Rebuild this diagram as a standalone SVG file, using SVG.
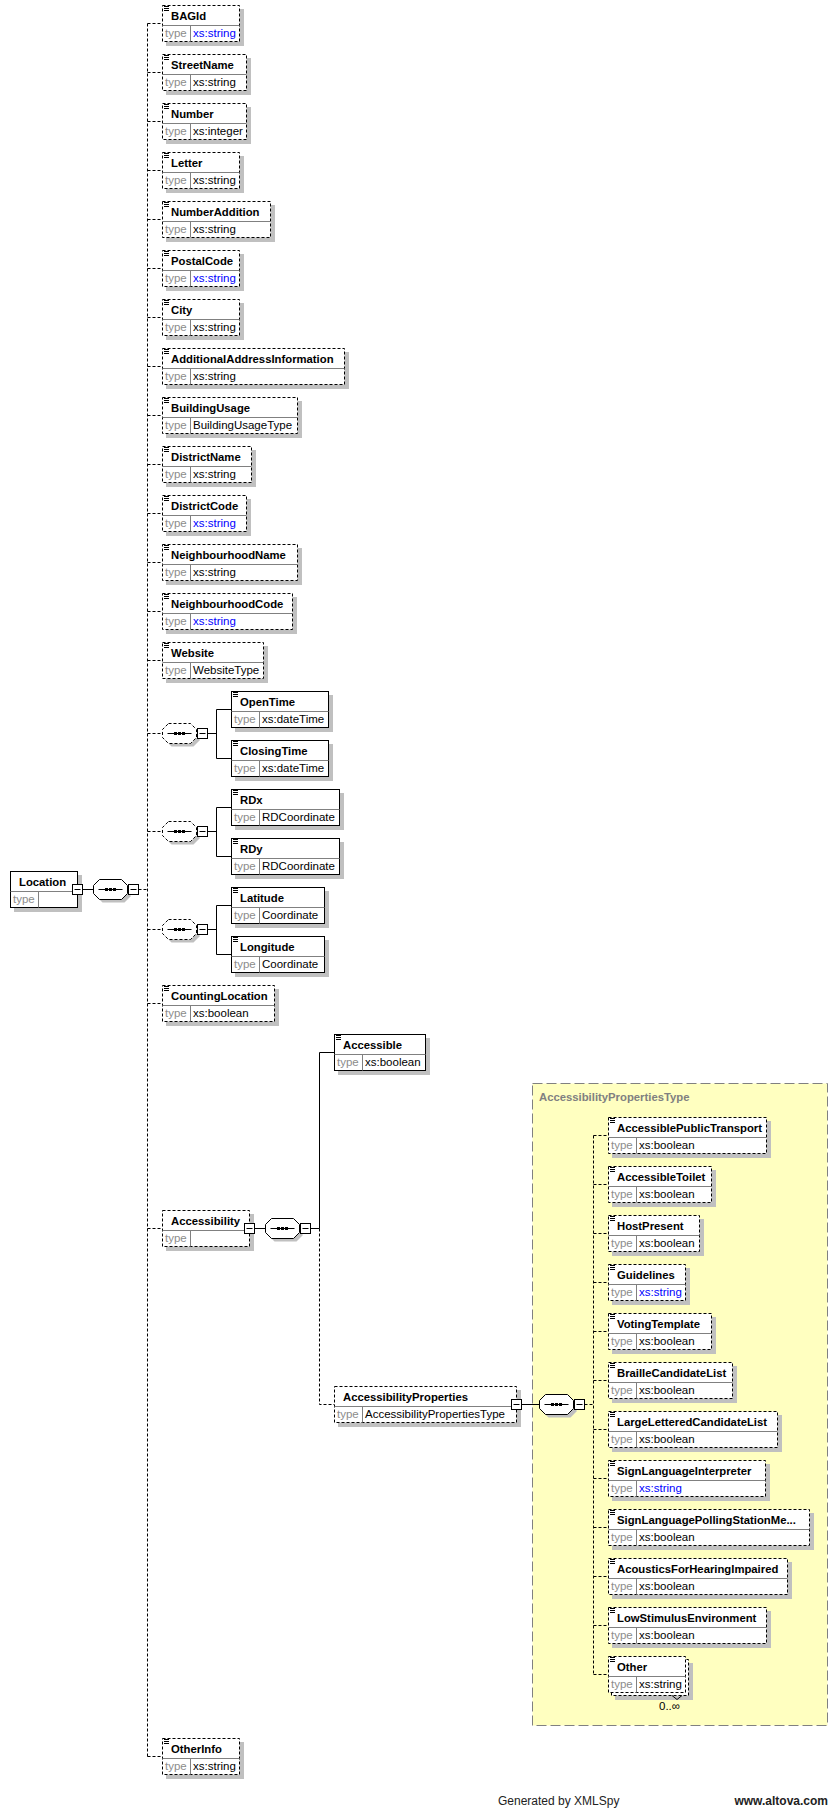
<svg xmlns="http://www.w3.org/2000/svg" xmlns:xlink="http://www.w3.org/1999/xlink" width="838" height="1809" viewBox="0 0 838 1809">
<style>
.sh{fill:#c0c0c0;stroke:none}
.bx{fill:#fff;stroke:#000;stroke-width:1}
.op{stroke-dasharray:3 2}
.dv{stroke:#808080;stroke-width:1;fill:none}
.ic{stroke:#000;stroke-width:1;fill:none}
.nm{font-family:'Liberation Sans',Arial,sans-serif;font-weight:bold;font-size:11.3px;fill:#000}
.ty{font-family:'Liberation Sans',Arial,sans-serif;font-size:11.5px;fill:#8c8c8c}
.vl{font-family:'Liberation Sans',Arial,sans-serif;font-size:11.5px;fill:#000}
.bl{fill:#0000ff}
.ln{stroke:#000;stroke-width:1;fill:none}
.dl{stroke-dasharray:3 2}
.ft{font-family:'Liberation Sans',Arial,sans-serif;font-size:12px;fill:#222}
</style>
<defs>
<polygon id="oct" points="6,0 28,0 34,6 34,14 28,20 6,20 0,14 0,6"/>
<g id="seq"><path d="M5 10H29" stroke="#000" stroke-width="1"/><rect x="11.5" y="8.5" width="3" height="3"/><rect x="15.5" y="8.5" width="3" height="3"/><rect x="19.5" y="8.5" width="3" height="3"/></g>
<g id="minus"><rect width="10" height="10" fill="#fff" stroke="#000" stroke-width="1"/><path d="M2 5H8" stroke="#000" stroke-width="1"/></g>
</defs>
<rect width="838" height="1809" fill="#fff"/>

<g id="AccessibilityPropertiesType">
<rect x="532.5" y="1083.5" width="295" height="642" fill="#ffffc0" stroke="#808080" stroke-width="1" stroke-dasharray="10 4"/>
<text class="nm" x="539" y="1101" style="fill:#808080">AccessibilityPropertiesType</text>
</g>

<g id="connectors" class="ln">
<path class="dl" d="M147.5 23.5V1756.5"/>
<path class="dl" d="M147.5 23.5H162.5M147.5 72.5H162.5M147.5 121.5H162.5M147.5 170.5H162.5M147.5 219.5H162.5M147.5 268.5H162.5M147.5 317.5H162.5M147.5 366.5H162.5M147.5 415.5H162.5M147.5 464.5H162.5M147.5 513.5H162.5M147.5 562.5H162.5M147.5 611.5H162.5M147.5 660.5H162.5M147.5 733.5H162.5M147.5 831.5H162.5M147.5 929.5H162.5M147.5 1003.5H162.5M147.5 1228.5H162.5M147.5 1756.5H162.5"/>
<path d="M82.5 889.5H93.5"/>
<path class="dl" d="M138.5 889.5H147.5"/>
<path d="M207.5 733.5H216.5M216.5 709.5V758.5M216.5 709.5H231.5M216.5 758.5H231.5"/>
<path d="M207.5 831.5H216.5M216.5 807.5V856.5M216.5 807.5H231.5M216.5 856.5H231.5"/>
<path d="M207.5 929.5H216.5M216.5 905.5V954.5M216.5 905.5H231.5M216.5 954.5H231.5"/>
<path d="M254.5 1228.5H265.5M310.5 1228.5H319.5M319.5 1052.5V1228.5M319.5 1052.5H334.5"/>
<path class="dl" d="M319.5 1228.5V1404.5H334.5"/>
<path d="M521.5 1404.5H539.5"/>
<path class="dl" d="M584.5 1404.5H593.5M593.5 1135.5V1674.5"/>
<path class="dl" d="M593.5 1135.5H608.5M593.5 1184.5H608.5M593.5 1233.5H608.5M593.5 1282.5H608.5M593.5 1331.5H608.5M593.5 1380.5H608.5M593.5 1429.5H608.5M593.5 1478.5H608.5M593.5 1527.5H608.5M593.5 1576.5H608.5M593.5 1625.5H608.5M593.5 1674.5H608.5"/>
</g>

<g id="Location">
<rect class="sh" x="14" y="875" width="68" height="37"/>
<rect class="bx" x="10.5" y="871.5" width="67" height="36"/>
<path class="dv" d="M10.5 891.5H77.5M38.5 891.5V907.5"/>
<text class="nm" x="19" y="886">Location</text>
<text class="ty" x="13" y="903">type</text>
<use xlink:href="#minus" x="72.5" y="884.5"/>
</g>
<g id="seq-Location">
<use xlink:href="#oct" x="96.5" y="882.5" class="sh"/>
<use xlink:href="#oct" x="93.5" y="879.5" class="bx"/>
<use xlink:href="#seq" x="93.5" y="879.5"/>
<use xlink:href="#minus" x="128.5" y="884.5"/>
</g>

<g id="BAGId">
<rect class="sh" x="166" y="9" width="78" height="37"/>
<rect class="bx op" x="162.5" y="5.5" width="77" height="36"/>
<path class="dv" d="M162.5 25.5H239.5M190.5 25.5V41.5"/>
<path class="ic" d="M164 6.5h5M164 8.5h5M164 10.5h5"/>
<text class="nm" x="171" y="20">BAGId</text>
<text class="ty" x="165" y="37">type</text>
<text class="vl bl" x="193" y="37">xs:string</text>
</g>
<g id="StreetName">
<rect class="sh" x="166" y="58" width="85" height="37"/>
<rect class="bx op" x="162.5" y="54.5" width="84" height="36"/>
<path class="dv" d="M162.5 74.5H246.5M190.5 74.5V90.5"/>
<path class="ic" d="M164 55.5h5M164 57.5h5M164 59.5h5"/>
<text class="nm" x="171" y="69">StreetName</text>
<text class="ty" x="165" y="86">type</text>
<text class="vl" x="193" y="86">xs:string</text>
</g>
<g id="Number">
<rect class="sh" x="166" y="107" width="85" height="37"/>
<rect class="bx op" x="162.5" y="103.5" width="84" height="36"/>
<path class="dv" d="M162.5 123.5H246.5M190.5 123.5V139.5"/>
<path class="ic" d="M164 104.5h5M164 106.5h5M164 108.5h5"/>
<text class="nm" x="171" y="118">Number</text>
<text class="ty" x="165" y="135">type</text>
<text class="vl" x="193" y="135">xs:integer</text>
</g>
<g id="Letter">
<rect class="sh" x="166" y="156" width="78" height="37"/>
<rect class="bx op" x="162.5" y="152.5" width="77" height="36"/>
<path class="dv" d="M162.5 172.5H239.5M190.5 172.5V188.5"/>
<path class="ic" d="M164 153.5h5M164 155.5h5M164 157.5h5"/>
<text class="nm" x="171" y="167">Letter</text>
<text class="ty" x="165" y="184">type</text>
<text class="vl" x="193" y="184">xs:string</text>
</g>
<g id="NumberAddition">
<rect class="sh" x="166" y="205" width="109" height="37"/>
<rect class="bx op" x="162.5" y="201.5" width="108" height="36"/>
<path class="dv" d="M162.5 221.5H270.5M190.5 221.5V237.5"/>
<path class="ic" d="M164 202.5h5M164 204.5h5M164 206.5h5"/>
<text class="nm" x="171" y="216">NumberAddition</text>
<text class="ty" x="165" y="233">type</text>
<text class="vl" x="193" y="233">xs:string</text>
</g>
<g id="PostalCode">
<rect class="sh" x="166" y="254" width="78" height="37"/>
<rect class="bx op" x="162.5" y="250.5" width="77" height="36"/>
<path class="dv" d="M162.5 270.5H239.5M190.5 270.5V286.5"/>
<path class="ic" d="M164 251.5h5M164 253.5h5M164 255.5h5"/>
<text class="nm" x="171" y="265">PostalCode</text>
<text class="ty" x="165" y="282">type</text>
<text class="vl bl" x="193" y="282">xs:string</text>
</g>
<g id="City">
<rect class="sh" x="166" y="303" width="78" height="37"/>
<rect class="bx op" x="162.5" y="299.5" width="77" height="36"/>
<path class="dv" d="M162.5 319.5H239.5M190.5 319.5V335.5"/>
<path class="ic" d="M164 300.5h5M164 302.5h5M164 304.5h5"/>
<text class="nm" x="171" y="314">City</text>
<text class="ty" x="165" y="331">type</text>
<text class="vl" x="193" y="331">xs:string</text>
</g>
<g id="AdditionalAddressInformation">
<rect class="sh" x="166" y="352" width="183" height="37"/>
<rect class="bx op" x="162.5" y="348.5" width="182" height="36"/>
<path class="dv" d="M162.5 368.5H344.5M190.5 368.5V384.5"/>
<path class="ic" d="M164 349.5h5M164 351.5h5M164 353.5h5"/>
<text class="nm" x="171" y="363">AdditionalAddressInformation</text>
<text class="ty" x="165" y="380">type</text>
<text class="vl" x="193" y="380">xs:string</text>
</g>
<g id="BuildingUsage">
<rect class="sh" x="166" y="401" width="136" height="37"/>
<rect class="bx op" x="162.5" y="397.5" width="135" height="36"/>
<path class="dv" d="M162.5 417.5H297.5M190.5 417.5V433.5"/>
<path class="ic" d="M164 398.5h5M164 400.5h5M164 402.5h5"/>
<text class="nm" x="171" y="412">BuildingUsage</text>
<text class="ty" x="165" y="429">type</text>
<text class="vl" x="193" y="429">BuildingUsageType</text>
</g>
<g id="DistrictName">
<rect class="sh" x="166" y="450" width="90" height="37"/>
<rect class="bx op" x="162.5" y="446.5" width="89" height="36"/>
<path class="dv" d="M162.5 466.5H251.5M190.5 466.5V482.5"/>
<path class="ic" d="M164 447.5h5M164 449.5h5M164 451.5h5"/>
<text class="nm" x="171" y="461">DistrictName</text>
<text class="ty" x="165" y="478">type</text>
<text class="vl" x="193" y="478">xs:string</text>
</g>
<g id="DistrictCode">
<rect class="sh" x="166" y="499" width="85" height="37"/>
<rect class="bx op" x="162.5" y="495.5" width="84" height="36"/>
<path class="dv" d="M162.5 515.5H246.5M190.5 515.5V531.5"/>
<path class="ic" d="M164 496.5h5M164 498.5h5M164 500.5h5"/>
<text class="nm" x="171" y="510">DistrictCode</text>
<text class="ty" x="165" y="527">type</text>
<text class="vl bl" x="193" y="527">xs:string</text>
</g>
<g id="NeighbourhoodName">
<rect class="sh" x="166" y="548" width="136" height="37"/>
<rect class="bx op" x="162.5" y="544.5" width="135" height="36"/>
<path class="dv" d="M162.5 564.5H297.5M190.5 564.5V580.5"/>
<path class="ic" d="M164 545.5h5M164 547.5h5M164 549.5h5"/>
<text class="nm" x="171" y="559">NeighbourhoodName</text>
<text class="ty" x="165" y="576">type</text>
<text class="vl" x="193" y="576">xs:string</text>
</g>
<g id="NeighbourhoodCode">
<rect class="sh" x="166" y="597" width="131" height="37"/>
<rect class="bx op" x="162.5" y="593.5" width="130" height="36"/>
<path class="dv" d="M162.5 613.5H292.5M190.5 613.5V629.5"/>
<path class="ic" d="M164 594.5h5M164 596.5h5M164 598.5h5"/>
<text class="nm" x="171" y="608">NeighbourhoodCode</text>
<text class="ty" x="165" y="625">type</text>
<text class="vl bl" x="193" y="625">xs:string</text>
</g>
<g id="Website">
<rect class="sh" x="166" y="646" width="102" height="37"/>
<rect class="bx op" x="162.5" y="642.5" width="101" height="36"/>
<path class="dv" d="M162.5 662.5H263.5M190.5 662.5V678.5"/>
<path class="ic" d="M164 643.5h5M164 645.5h5M164 647.5h5"/>
<text class="nm" x="171" y="657">Website</text>
<text class="ty" x="165" y="674">type</text>
<text class="vl" x="193" y="674">WebsiteType</text>
</g>

<g id="seq-Time">
<use xlink:href="#oct" x="165.5" y="726.5" class="sh"/>
<use xlink:href="#oct" x="162.5" y="723.5" class="bx op"/>
<use xlink:href="#seq" x="162.5" y="723.5"/>
<use xlink:href="#minus" x="197.5" y="728.5"/>
</g>
<g id="OpenTime">
<rect class="sh" x="235" y="695" width="98" height="37"/>
<rect class="bx" x="231.5" y="691.5" width="97" height="36"/>
<path class="dv" d="M231.5 711.5H328.5M259.5 711.5V727.5"/>
<path class="ic" d="M233 692.5h5M233 694.5h5M233 696.5h5"/>
<text class="nm" x="240" y="706">OpenTime</text>
<text class="ty" x="234" y="723">type</text>
<text class="vl" x="262" y="723">xs:dateTime</text>
</g>
<g id="ClosingTime">
<rect class="sh" x="235" y="744" width="98" height="37"/>
<rect class="bx" x="231.5" y="740.5" width="97" height="36"/>
<path class="dv" d="M231.5 760.5H328.5M259.5 760.5V776.5"/>
<path class="ic" d="M233 741.5h5M233 743.5h5M233 745.5h5"/>
<text class="nm" x="240" y="755">ClosingTime</text>
<text class="ty" x="234" y="772">type</text>
<text class="vl" x="262" y="772">xs:dateTime</text>
</g>

<g id="seq-RD">
<use xlink:href="#oct" x="165.5" y="824.5" class="sh"/>
<use xlink:href="#oct" x="162.5" y="821.5" class="bx op"/>
<use xlink:href="#seq" x="162.5" y="821.5"/>
<use xlink:href="#minus" x="197.5" y="826.5"/>
</g>
<g id="RDx">
<rect class="sh" x="235" y="793" width="109" height="37"/>
<rect class="bx" x="231.5" y="789.5" width="108" height="36"/>
<path class="dv" d="M231.5 809.5H339.5M259.5 809.5V825.5"/>
<path class="ic" d="M233 790.5h5M233 792.5h5M233 794.5h5"/>
<text class="nm" x="240" y="804">RDx</text>
<text class="ty" x="234" y="821">type</text>
<text class="vl" x="262" y="821">RDCoordinate</text>
</g>
<g id="RDy">
<rect class="sh" x="235" y="842" width="109" height="37"/>
<rect class="bx" x="231.5" y="838.5" width="108" height="36"/>
<path class="dv" d="M231.5 858.5H339.5M259.5 858.5V874.5"/>
<path class="ic" d="M233 839.5h5M233 841.5h5M233 843.5h5"/>
<text class="nm" x="240" y="853">RDy</text>
<text class="ty" x="234" y="870">type</text>
<text class="vl" x="262" y="870">RDCoordinate</text>
</g>

<g id="seq-LatLon">
<use xlink:href="#oct" x="165.5" y="922.5" class="sh"/>
<use xlink:href="#oct" x="162.5" y="919.5" class="bx op"/>
<use xlink:href="#seq" x="162.5" y="919.5"/>
<use xlink:href="#minus" x="197.5" y="924.5"/>
</g>
<g id="Latitude">
<rect class="sh" x="235" y="891" width="94" height="37"/>
<rect class="bx" x="231.5" y="887.5" width="93" height="36"/>
<path class="dv" d="M231.5 907.5H324.5M259.5 907.5V923.5"/>
<path class="ic" d="M233 888.5h5M233 890.5h5M233 892.5h5"/>
<text class="nm" x="240" y="902">Latitude</text>
<text class="ty" x="234" y="919">type</text>
<text class="vl" x="262" y="919">Coordinate</text>
</g>
<g id="Longitude">
<rect class="sh" x="235" y="940" width="94" height="37"/>
<rect class="bx" x="231.5" y="936.5" width="93" height="36"/>
<path class="dv" d="M231.5 956.5H324.5M259.5 956.5V972.5"/>
<path class="ic" d="M233 937.5h5M233 939.5h5M233 941.5h5"/>
<text class="nm" x="240" y="951">Longitude</text>
<text class="ty" x="234" y="968">type</text>
<text class="vl" x="262" y="968">Coordinate</text>
</g>

<g id="CountingLocation">
<rect class="sh" x="166" y="989" width="113" height="37"/>
<rect class="bx op" x="162.5" y="985.5" width="112" height="36"/>
<path class="dv" d="M162.5 1005.5H274.5M190.5 1005.5V1021.5"/>
<path class="ic" d="M164 986.5h5M164 988.5h5M164 990.5h5"/>
<text class="nm" x="171" y="1000">CountingLocation</text>
<text class="ty" x="165" y="1017">type</text>
<text class="vl" x="193" y="1017">xs:boolean</text>
</g>

<g id="Accessibility">
<rect class="sh" x="166" y="1214" width="88" height="37"/>
<rect class="bx op" x="162.5" y="1210.5" width="87" height="36"/>
<path class="dv" d="M162.5 1230.5H249.5M190.5 1230.5V1246.5"/>
<text class="nm" x="171" y="1225">Accessibility</text>
<text class="ty" x="165" y="1242">type</text>
<use xlink:href="#minus" x="244.5" y="1223.5"/>
</g>
<g id="seq-Accessibility">
<use xlink:href="#oct" x="268.5" y="1221.5" class="sh"/>
<use xlink:href="#oct" x="265.5" y="1218.5" class="bx"/>
<use xlink:href="#seq" x="265.5" y="1218.5"/>
<use xlink:href="#minus" x="300.5" y="1223.5"/>
</g>
<g id="Accessible">
<rect class="sh" x="338" y="1038" width="92" height="37"/>
<rect class="bx" x="334.5" y="1034.5" width="91" height="36"/>
<path class="dv" d="M334.5 1054.5H425.5M362.5 1054.5V1070.5"/>
<path class="ic" d="M336 1035.5h5M336 1037.5h5M336 1039.5h5"/>
<text class="nm" x="343" y="1049">Accessible</text>
<text class="ty" x="337" y="1066">type</text>
<text class="vl" x="365" y="1066">xs:boolean</text>
</g>
<g id="AccessibilityProperties">
<rect class="sh" x="338" y="1390" width="183" height="37"/>
<rect class="bx op" x="334.5" y="1386.5" width="182" height="36"/>
<path class="dv" d="M334.5 1406.5H516.5M362.5 1406.5V1422.5"/>
<text class="nm" x="343" y="1401">AccessibilityProperties</text>
<text class="ty" x="337" y="1418">type</text>
<text class="vl" x="365" y="1418">AccessibilityPropertiesType</text>
<use xlink:href="#minus" x="511.5" y="1399.5"/>
</g>
<g id="seq-AccessibilityPropertiesType">
<use xlink:href="#oct" x="542.5" y="1397.5" class="sh"/>
<use xlink:href="#oct" x="539.5" y="1394.5" class="bx"/>
<use xlink:href="#seq" x="539.5" y="1394.5"/>
<use xlink:href="#minus" x="574.5" y="1399.5"/>
</g>

<g id="AccessiblePublicTransport">
<rect class="sh" x="612" y="1121" width="159" height="37"/>
<rect class="bx op" x="608.5" y="1117.5" width="158" height="36"/>
<path class="dv" d="M608.5 1137.5H766.5M636.5 1137.5V1153.5"/>
<path class="ic" d="M610 1118.5h5M610 1120.5h5M610 1122.5h5"/>
<text class="nm" x="617" y="1132">AccessiblePublicTransport</text>
<text class="ty" x="611" y="1149">type</text>
<text class="vl" x="639" y="1149">xs:boolean</text>
</g>
<g id="AccessibleToilet">
<rect class="sh" x="612" y="1170" width="104" height="37"/>
<rect class="bx op" x="608.5" y="1166.5" width="103" height="36"/>
<path class="dv" d="M608.5 1186.5H711.5M636.5 1186.5V1202.5"/>
<path class="ic" d="M610 1167.5h5M610 1169.5h5M610 1171.5h5"/>
<text class="nm" x="617" y="1181">AccessibleToilet</text>
<text class="ty" x="611" y="1198">type</text>
<text class="vl" x="639" y="1198">xs:boolean</text>
</g>
<g id="HostPresent">
<rect class="sh" x="612" y="1219" width="92" height="37"/>
<rect class="bx op" x="608.5" y="1215.5" width="91" height="36"/>
<path class="dv" d="M608.5 1235.5H699.5M636.5 1235.5V1251.5"/>
<path class="ic" d="M610 1216.5h5M610 1218.5h5M610 1220.5h5"/>
<text class="nm" x="617" y="1230">HostPresent</text>
<text class="ty" x="611" y="1247">type</text>
<text class="vl" x="639" y="1247">xs:boolean</text>
</g>
<g id="Guidelines">
<rect class="sh" x="612" y="1268" width="78" height="37"/>
<rect class="bx op" x="608.5" y="1264.5" width="77" height="36"/>
<path class="dv" d="M608.5 1284.5H685.5M636.5 1284.5V1300.5"/>
<path class="ic" d="M610 1265.5h5M610 1267.5h5M610 1269.5h5"/>
<text class="nm" x="617" y="1279">Guidelines</text>
<text class="ty" x="611" y="1296">type</text>
<text class="vl bl" x="639" y="1296">xs:string</text>
</g>
<g id="VotingTemplate">
<rect class="sh" x="612" y="1317" width="104" height="37"/>
<rect class="bx op" x="608.5" y="1313.5" width="103" height="36"/>
<path class="dv" d="M608.5 1333.5H711.5M636.5 1333.5V1349.5"/>
<path class="ic" d="M610 1314.5h5M610 1316.5h5M610 1318.5h5"/>
<text class="nm" x="617" y="1328">VotingTemplate</text>
<text class="ty" x="611" y="1345">type</text>
<text class="vl" x="639" y="1345">xs:boolean</text>
</g>
<g id="BrailleCandidateList">
<rect class="sh" x="612" y="1366" width="125" height="37"/>
<rect class="bx op" x="608.5" y="1362.5" width="124" height="36"/>
<path class="dv" d="M608.5 1382.5H732.5M636.5 1382.5V1398.5"/>
<path class="ic" d="M610 1363.5h5M610 1365.5h5M610 1367.5h5"/>
<text class="nm" x="617" y="1377">BrailleCandidateList</text>
<text class="ty" x="611" y="1394">type</text>
<text class="vl" x="639" y="1394">xs:boolean</text>
</g>
<g id="LargeLetteredCandidateList">
<rect class="sh" x="612" y="1415" width="170" height="37"/>
<rect class="bx op" x="608.5" y="1411.5" width="169" height="36"/>
<path class="dv" d="M608.5 1431.5H777.5M636.5 1431.5V1447.5"/>
<path class="ic" d="M610 1412.5h5M610 1414.5h5M610 1416.5h5"/>
<text class="nm" x="617" y="1426">LargeLetteredCandidateList</text>
<text class="ty" x="611" y="1443">type</text>
<text class="vl" x="639" y="1443">xs:boolean</text>
</g>
<g id="SignLanguageInterpreter">
<rect class="sh" x="612" y="1464" width="158" height="37"/>
<rect class="bx op" x="608.5" y="1460.5" width="157" height="36"/>
<path class="dv" d="M608.5 1480.5H765.5M636.5 1480.5V1496.5"/>
<path class="ic" d="M610 1461.5h5M610 1463.5h5M610 1465.5h5"/>
<text class="nm" x="617" y="1475">SignLanguageInterpreter</text>
<text class="ty" x="611" y="1492">type</text>
<text class="vl bl" x="639" y="1492">xs:string</text>
</g>
<g id="SignLanguagePollingStationMe">
<rect class="sh" x="612" y="1513" width="202" height="37"/>
<rect class="bx op" x="608.5" y="1509.5" width="201" height="36"/>
<path class="dv" d="M608.5 1529.5H809.5M636.5 1529.5V1545.5"/>
<path class="ic" d="M610 1510.5h5M610 1512.5h5M610 1514.5h5"/>
<text class="nm" x="617" y="1524">SignLanguagePollingStationMe...</text>
<text class="ty" x="611" y="1541">type</text>
<text class="vl" x="639" y="1541">xs:boolean</text>
</g>
<g id="AcousticsForHearingImpaired">
<rect class="sh" x="612" y="1562" width="180" height="37"/>
<rect class="bx op" x="608.5" y="1558.5" width="179" height="36"/>
<path class="dv" d="M608.5 1578.5H787.5M636.5 1578.5V1594.5"/>
<path class="ic" d="M610 1559.5h5M610 1561.5h5M610 1563.5h5"/>
<text class="nm" x="617" y="1573">AcousticsForHearingImpaired</text>
<text class="ty" x="611" y="1590">type</text>
<text class="vl" x="639" y="1590">xs:boolean</text>
</g>
<g id="LowStimulusEnvironment">
<rect class="sh" x="612" y="1611" width="159" height="37"/>
<rect class="bx op" x="608.5" y="1607.5" width="158" height="36"/>
<path class="dv" d="M608.5 1627.5H766.5M636.5 1627.5V1643.5"/>
<path class="ic" d="M610 1608.5h5M610 1610.5h5M610 1612.5h5"/>
<text class="nm" x="617" y="1622">LowStimulusEnvironment</text>
<text class="ty" x="611" y="1639">type</text>
<text class="vl" x="639" y="1639">xs:boolean</text>
</g>
<g id="Other">
<rect class="sh" x="615" y="1663" width="78" height="37"/>
<rect class="bx op" x="611.5" y="1659.5" width="77" height="36"/>
<rect class="bx op" x="608.5" y="1656.5" width="77" height="36"/>
<path class="dv" d="M608.5 1676.5H685.5M636.5 1676.5V1692.5"/>
<path class="ic" d="M610 1657.5h5M610 1659.5h5M610 1661.5h5"/>
<text class="nm" x="617" y="1671">Other</text>
<text class="ty" x="611" y="1688">type</text>
<text class="vl" x="639" y="1688">xs:string</text>
<path class="ln" d="M672 1695.5L677 1699.5L682 1695.5"/>
<text class="vl" x="659" y="1710">0..∞</text>
</g>

<g id="OtherInfo">
<rect class="sh" x="166" y="1742" width="78" height="37"/>
<rect class="bx op" x="162.5" y="1738.5" width="77" height="36"/>
<path class="dv" d="M162.5 1758.5H239.5M190.5 1758.5V1774.5"/>
<path class="ic" d="M164 1739.5h5M164 1741.5h5M164 1743.5h5"/>
<text class="nm" x="171" y="1753">OtherInfo</text>
<text class="ty" x="165" y="1770">type</text>
<text class="vl" x="193" y="1770">xs:string</text>
</g>

<g id="footer">
<text class="ft" x="498" y="1805">Generated by XMLSpy</text>
<text class="ft" x="828" y="1805" text-anchor="end" font-weight="bold">www.altova.com</text>
</g>
</svg>
